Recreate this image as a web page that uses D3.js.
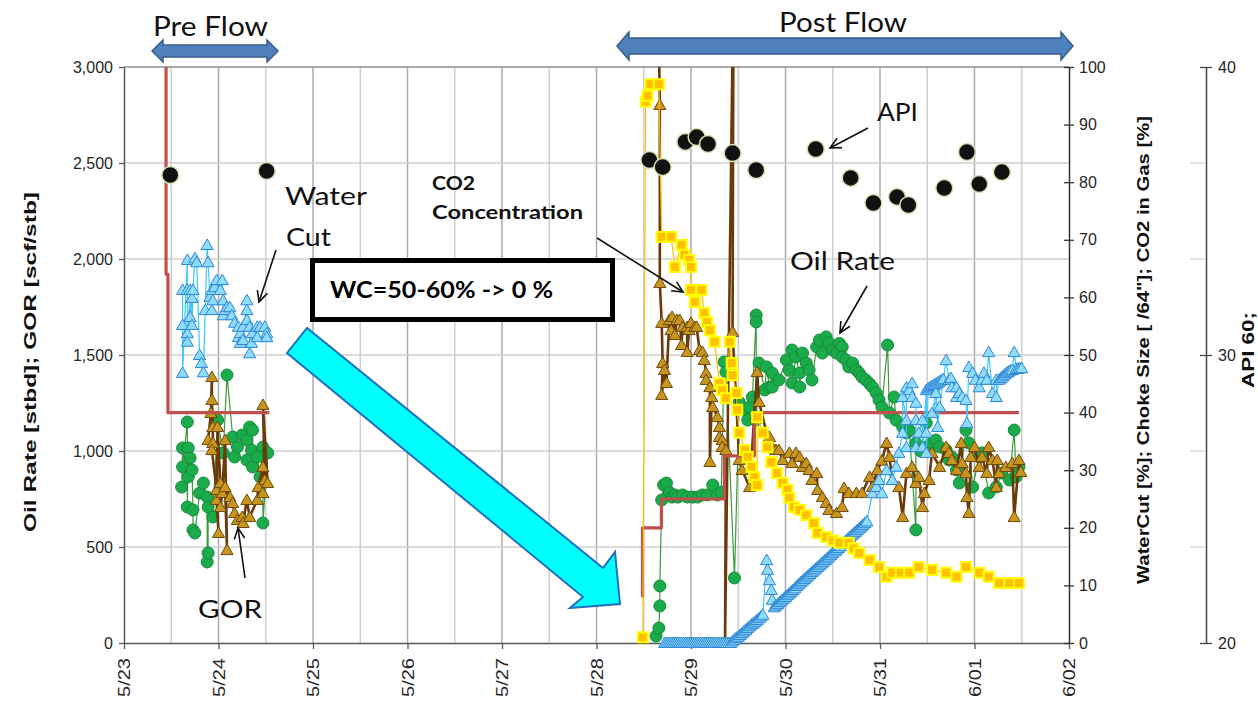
<!DOCTYPE html>
<html><head><meta charset="utf-8">
<script src="https://cdn.jsdelivr.net/npm/d3@7"></script>
<style>body{margin:0;background:#fff;} svg{display:block;}</style>
</head><body>
<svg id="c" width="1258" height="706"></svg>
<script>
// ---------- DATA (day offset from 5/23 00:00, value) ----------
const dateLabels = ["5/23","5/24","5/25","5/26","5/27","5/28","5/29","5/30","5/31","6/01","6/02"];
const leftTicks = [0,500,1000,1500,2000,2500,3000];
const rightTicks = [0,10,20,30,40,50,60,70,80,90,100];
const apiTicks = [20,30,40];

// Oil rate [stbd] (left axis)
const oilPre = [[0.61,812],[0.62,1016],[0.62,917],[0.67,1151],[0.67,708],[0.68,1016],[0.68,865],[0.70,964],[0.72,901],[0.73,693],[0.73,589],[0.75,573],[0.80,781],[0.84,833],[0.88,760],[0.88,422],[0.89,469],[0.89,708],[0.94,656],[0.99,1161],[1.05,990],[1.09,1396],[1.15,1073],[1.17,969],[1.20,1021],[1.25,1083],[1.30,1057],[1.30,953],[1.33,1125],[1.35,1005],[1.36,1109],[1.36,917],[1.41,969],[1.44,865],[1.47,1021],[1.47,625],[1.52,990]];
const oilPost = [[5.63,36],[5.66,78],[5.67,193],[5.67,297],[5.69,745],[5.71,823],[5.74,833],[5.77,786],[5.80,760],[5.83,771],[5.86,760],[5.91,771],[5.96,760],[6.02,760],[6.07,760],[6.12,771],[6.17,771],[6.23,823],[6.28,771],[6.32,786],[6.35,1464],[6.37,1411],[6.46,339],[6.51,1255],[6.57,1214],[6.60,1161],[6.62,1229],[6.65,1281],[6.69,1708],[6.69,1672],[6.69,1161],[6.72,1458],[6.78,1318],[6.80,1438],[6.83,1333],[6.86,1406],[6.86,1333],[6.93,1370],[7.01,1474],[7.04,1420],[7.07,1526],[7.07,1354],[7.11,1490],[7.15,1406],[7.15,1333],[7.18,1510],[7.22,1458],[7.25,1422],[7.28,1370],[7.33,1542],[7.36,1578],[7.39,1510],[7.43,1594],[7.46,1562],[7.50,1526],[7.54,1510],[7.57,1560],[7.60,1542],[7.60,1490],[7.64,1474],[7.67,1438],[7.71,1458],[7.75,1422],[7.78,1406],[7.81,1385],[7.85,1370],[7.89,1350],[7.92,1333],[7.96,1302],[7.99,1266],[8.02,1229],[8.08,1552],[8.10,1198],[8.15,1281],[8.17,1161],[8.24,1125],[8.28,1094],[8.31,1109],[8.38,589],[8.38,1042],[8.43,1000],[8.49,1146],[8.49,1021],[8.55,1042],[8.59,1057],[8.63,1021],[8.70,1005],[8.73,953],[8.76,969],[8.81,901],[8.84,833],[8.91,1109],[8.94,1042],[8.98,812],[9.05,969],[9.08,990],[9.15,781],[9.23,812],[9.29,885],[9.37,849],[9.42,1109],[9.44,865],[9.47,917]];

// GOR [scf/stb] (left axis)
const gorPre = [[0.89,1057],[0.92,1198],[0.93,1385],[0.93,1266],[0.94,1125],[0.94,1042],[0.93,1005],[0.98,797],[1.00,573],[0.98,745],[0.99,1125],[1.02,833],[1.02,708],[1.04,781],[1.07,1057],[1.09,484],[1.07,812],[1.12,760],[1.15,729],[1.17,677],[1.20,641],[1.25,656],[1.26,625],[1.30,745],[1.33,656],[1.41,745],[1.42,812],[1.47,917],[1.47,781],[1.49,849],[1.47,1240],[1.52,833]];
const gorPost = [[5.65,3500],[5.67,2802],[5.67,1875],[5.69,1667],[5.70,1458],[5.69,1292],[5.72,1422],[5.74,1354],[5.77,1682],[5.79,1630],[5.80,1698],[5.83,1604],[5.85,1682],[5.88,1682],[5.90,1552],[5.91,1646],[5.96,1646],[5.96,1516],[5.98,1630],[6.00,1667],[6.04,1646],[6.06,1646],[6.09,1526],[6.12,1516],[6.14,1474],[6.16,1406],[6.16,1370],[6.20,1333],[6.20,943],[6.22,1281],[6.23,1229],[6.28,1177],[6.30,1125],[6.30,1073],[6.33,1057],[6.33,1021],[6.37,1005],[6.36,0],[6.45,3500],[6.44,1620],[6.51,953],[6.54,901],[6.62,812],[6.70,1411],[6.72,1255],[6.80,1094],[6.83,1073],[6.90,1005],[6.93,1005],[6.97,953],[7.04,990],[7.07,937],[7.11,990],[7.15,969],[7.18,917],[7.22,937],[7.25,901],[7.28,849],[7.33,885],[7.34,797],[7.39,760],[7.43,729],[7.46,693],[7.54,677],[7.60,708],[7.62,807],[7.67,781],[7.75,781],[7.81,781],[7.89,865],[7.92,812],[7.97,900],[8.02,950],[8.07,1042],[8.10,969],[8.13,849],[8.20,812],[8.24,656],[8.28,885],[8.34,917],[8.38,833],[8.41,865],[8.45,708],[8.47,781],[8.52,849],[8.55,990],[8.63,917],[8.70,1021],[8.73,990],[8.76,953],[8.81,901],[8.86,1042],[8.87,937],[8.91,885],[8.92,760],[8.94,677],[8.96,969],[9.00,1021],[9.05,917],[9.08,969],[9.13,885],[9.15,1021],[9.19,953],[9.23,812],[9.24,953],[9.26,885],[9.33,917],[9.40,937],[9.42,656],[9.47,953],[9.49,891]];

// Water cut [%] (right axis)
const wcPre = [[0.62,61.3],[0.62,55.2],[0.62,46.9],[0.67,66.5],[0.67,61.3],[0.67,53.8],[0.67,52.3],[0.70,61.3],[0.70,56.6],[0.72,59.9],[0.72,55.2],[0.73,61.3],[0.75,66.8],[0.77,66.1],[0.80,50.0],[0.82,48.6],[0.84,47.0],[0.86,57.8],[0.88,69.1],[0.89,66.1],[0.91,60.1],[0.93,61.3],[0.93,57.8],[0.94,59.5],[0.96,61.8],[0.98,63.0],[1.02,61.3],[1.04,63.0],[1.05,59.5],[1.05,56.9],[1.07,57.8],[1.09,58.3],[1.12,58.3],[1.14,56.9],[1.17,55.6],[1.21,54.9],[1.21,53.1],[1.23,53.8],[1.23,52.1],[1.26,54.9],[1.26,52.6],[1.30,59.5],[1.30,57.8],[1.30,56.1],[1.33,54.9],[1.33,50.3],[1.35,52.1],[1.36,53.8],[1.41,54.9],[1.41,53.1],[1.44,54.9],[1.49,54.9],[1.51,53.8],[1.51,53.1]];
const wcPost = [[5.72,0],[5.74,0],[5.76,0],[5.78,0],[5.80,0],[5.82,0],[5.84,0],[5.86,0],[5.88,0],[5.90,0],[5.92,0],[5.94,0],[5.96,0],[5.98,0],[6.00,0],[6.02,0],[6.04,0],[6.06,0],[6.08,0],[6.10,0],[6.12,0],[6.14,0],[6.16,0],[6.18,0],[6.20,0],[6.22,0],[6.24,0],[6.26,0],[6.28,0],[6.30,0],[6.32,0],[6.34,0],[6.36,0],[6.38,0],[6.40,0],[6.42,0],
 [6.44,0.3],[6.46,0.6],[6.48,0.9],[6.50,1.1],[6.52,1.4],[6.54,1.7],[6.56,2.0],[6.58,2.3],[6.60,2.6],[6.62,2.9],[6.64,3.2],[6.66,3.4],[6.68,3.7],[6.70,4.0],[6.72,4.3],[6.74,4.6],[6.76,4.9],
 [6.80,14.4],[6.81,12.7],[6.83,10.9],[6.85,9.2],[6.86,7.5],
 [6.88,6.2],[6.90,6.5],[6.92,6.8],[6.94,7.1],[6.96,7.4],[6.98,7.7],[7.00,8.0],[7.02,8.3],[7.04,8.6],[7.06,8.9],[7.08,9.2],[7.10,9.5],[7.12,9.9],[7.14,10.2],[7.16,10.5],[7.18,10.8],[7.20,11.1],[7.22,11.4],[7.24,11.7],[7.26,12.0],[7.28,12.3],[7.30,12.6],[7.32,12.9],[7.34,13.2],[7.36,13.5],[7.38,13.8],[7.40,14.1],[7.42,14.4],[7.44,14.7],[7.46,15.0],[7.48,15.3],[7.50,15.6],[7.52,15.9],[7.54,16.2],[7.56,16.5],[7.58,16.8],[7.60,17.2],[7.62,17.5],[7.64,17.8],[7.66,18.1],[7.68,18.4],[7.70,18.7],[7.72,19.0],[7.74,19.3],[7.76,19.6],[7.78,19.9],[7.80,20.2],[7.82,20.5],[7.84,20.8],[7.86,21.1],
 [7.92,26.0],[7.96,27.1],[7.99,28.3],[8.02,26.0],[8.07,30.0],[8.13,28.3],[8.17,30.6],[8.20,33.0],[8.24,36.5],[8.24,42.7],[8.28,38.7],[8.28,34.0],[8.28,44.4],[8.31,43.9],[8.34,45.1],[8.34,42.7],[8.38,41.7],[8.38,38.7],[8.38,34.0],[8.41,36.5],[8.45,38.7],[8.45,34.0],[8.49,43.9],[8.49,36.5],[8.49,33.0],
 [8.51,44.2],[8.53,44.4],[8.55,44.6],[8.57,44.8],[8.59,45.0],[8.61,45.2],[8.63,45.4],[8.65,45.6],[8.67,45.8],
 [8.55,39.9],[8.59,43.4],[8.61,37.5],[8.63,41.0],[8.70,49.1],[8.73,45.7],[8.75,46.0],[8.76,44.4],[8.81,44.4],[8.81,42.7],[8.84,43.4],[8.87,42.7],[8.91,42.2],[8.92,38.2],[8.94,47.9],[8.98,46.9],[9.01,45.7],[9.05,44.4],[9.08,45.7],[9.10,46.9],[9.13,45.7],[9.15,50.5],[9.19,43.4],[9.23,45.7],[9.23,42.7],
 [9.26,45.7],[9.28,46.0],[9.30,46.3],[9.32,46.6],[9.34,46.9],[9.36,47.1],[9.38,47.3],[9.40,47.4],[9.42,50.5],[9.44,47.6],[9.46,47.6],[9.48,47.7],[9.50,47.7]];

// CO2 in gas [%] (right axis)
const co2 = [[5.49,1],[5.52,94],[5.54,95],[5.57,97],[5.66,97],[5.69,70.5],[5.79,70.5],[5.83,65.3],[5.90,69.1],[5.93,67.4],[5.98,66.5],[6.00,65.3],[6.00,61.3],[6.04,59.2],[6.11,61.3],[6.14,57.3],[6.17,55.7],[6.20,54.3],[6.25,52.3],[6.30,45.1],[6.33,43.9],[6.37,42.5],[6.41,52.3],[6.43,48.6],[6.44,46.5],[6.48,43.4],[6.49,40.5],[6.51,36.5],[6.57,33.5],[6.60,32.3],[6.64,30.6],[6.67,28.8],[6.70,27.4],[6.70,39.2],[6.76,36.5],[6.81,34.0],[6.85,31.4],[6.91,29.5],[6.97,27.8],[7.02,26.6],[7.04,25.2],[7.09,23.6],[7.15,23.1],[7.22,22.2],[7.30,20.8],[7.34,19.1],[7.43,18.4],[7.50,17.8],[7.57,17.4],[7.67,17.4],[7.72,16.4],[7.78,15.6],[7.89,14.4],[7.99,13.2],[8.07,11.5],[8.13,12.2],[8.22,12.2],[8.31,12.2],[8.41,13.2],[8.55,12.7],[8.70,12.2],[8.81,11.5],[8.91,13.2],[9.05,12.2],[9.15,11.5],[9.26,10.4],[9.37,10.4],[9.47,10.4]];

// Choke size [/64"] (right axis, step line)
const chokePre = [[0.44,110],[0.445,64],[0.465,40],[1.54,40]];
const chokePost = [[5.485,8],[5.487,20],[5.687,25],[6.353,32.5],[6.67,40],[9.47,40]];

// API 60 (API axis)
const api = [[0.49,36.25],[1.51,36.39],[5.56,36.77],[5.70,36.53],[5.94,37.40],[6.06,37.57],[6.18,37.33],[6.44,37.01],[6.69,36.42],[7.32,37.15],[7.69,36.15],[7.93,35.28],[8.18,35.49],[8.30,35.21],[8.68,35.80],[8.92,37.05],[9.05,35.94],[9.29,36.35]];

// ---------- CHART ----------
const L=124, R=1069, T=67, B=643, AX2=1206;
const base = Date.UTC(2013,4,23);
const toDate = d => new Date(base + d*864e5);
const x = d3.scaleUtc().domain([toDate(0), toDate(10)]).range([L,R]);
const yL = d3.scaleLinear().domain([0,3000]).range([B,T]);
const yR = d3.scaleLinear().domain([0,100]).range([B,T]);
const yA = d3.scaleLinear().domain([20,40]).range([B,T]);

const svg = d3.select("#c");
svg.append("rect").attr("width",1258).attr("height",706).attr("fill","#fff");
svg.append("defs").append("clipPath").attr("id","pc")
  .append("rect").attr("x",L).attr("y",T).attr("width",R-L).attr("height",B-T);

// grid
const grid = svg.append("g");
const gx = x.ticks(d3.utcHour.every(12)).filter(t => t > x.domain()[0] && t < x.domain()[1]);
grid.selectAll("line.v").data(gx).join("line")
  .attr("x1",d=>x(d)).attr("x2",d=>x(d)).attr("y1",T).attr("y2",B)
  .attr("stroke",d=>d.getUTCHours()===0?"#ABABAB":"#CFCFCF").attr("stroke-width",1.5);
grid.selectAll("line.h").data(leftTicks.filter(v=>v>0)).join("line")
  .attr("x1",L).attr("x2",R).attr("y1",d=>yL(d)).attr("y2",d=>yL(d))
  .attr("stroke",d=>d===3000?"#8C8C8C":"#CFCFCF").attr("stroke-width",1.5);

// cyan arrow + WC box
svg.append("path")
  .attr("d","M287,353 L307,328 L603,568 L615,552 L620,604 L570,608 L583,597 Z")
  .attr("fill","#00FFFF").attr("stroke","#1F70C0").attr("stroke-width",2);
svg.append("rect").attr("x",312.5).attr("y",260.5).attr("width",300).attr("height",59)
  .attr("fill","#fff").attr("stroke","#000").attr("stroke-width",5);
svg.append("text").attr("x",330).attr("y",298).text("WC=50-60% -> 0 %")
  .attr("font-family","Lato, 'Open Sans', sans-serif").attr("font-weight","bold").attr("font-size",22)
  .attr("textLength",223).attr("lengthAdjust","spacingAndGlyphs");

// axes
const fontAx = "'Liberation Sans', Arial, sans-serif";
const gL = svg.append("g").attr("transform",`translate(${L},0)`)
  .call(d3.axisLeft(yL).tickValues(leftTicks).tickFormat(d3.format(",")).tickSize(5).tickSizeOuter(0).tickPadding(6));
const gB = svg.append("g").attr("transform",`translate(0,${B})`)
  .call(d3.axisBottom(x).tickValues(dateLabels.map((s,i)=>toDate(i))).tickFormat((d,i)=>dateLabels[i]).tickSize(6).tickSizeOuter(0));
const gR = svg.append("g").attr("transform",`translate(${R},0)`)
  .call(d3.axisRight(yR).tickValues(rightTicks).tickSize(5).tickSizeOuter(0).tickPadding(5));
gR.selectAll(".tick line").attr("x1",-5);
const gA = svg.append("g").attr("transform",`translate(${AX2},0)`)
  .call(d3.axisRight(yA).tickValues(apiTicks).tickSize(6).tickSizeOuter(0).tickPadding(6));
gA.selectAll(".tick line").attr("x1",-6);
[gL,gB,gR,gA].forEach(g=>{
  g.selectAll("text").attr("font-family",fontAx).attr("font-size",16).attr("fill","#262626");
  g.selectAll("path.domain").attr("stroke","#595959").attr("stroke-width",1.5);
  g.selectAll(".tick line").attr("stroke","#595959").attr("stroke-width",1.3);
});
gB.selectAll("text").attr("transform","rotate(-90)").attr("x",-15).attr("y",0).attr("dy","0.35em")
  .style("text-anchor","end").attr("font-size",17).attr("textLength",39).attr("lengthAdjust","spacingAndGlyphs");
gR.selectAll("path.domain,.tick line").attr("stroke","#333");
gA.selectAll("path.domain,.tick line").attr("stroke","#444");
svg.append("g").selectAll("line").data([500,1000,2000,2500]).join("line")
  .attr("x1",AX2-16).attr("x2",AX2).attr("y1",d=>yL(d)).attr("y2",d=>yL(d))
  .attr("stroke","#D0D0D0").attr("stroke-width",1.2);

// axis titles
function vTitle(t,cx,cy,len){
  svg.append("text").attr("transform",`translate(${cx},${cy}) rotate(-90)`).attr("text-anchor","middle")
    .attr("font-family",fontAx).attr("font-weight","bold").attr("font-size",17).attr("fill","#111")
    .attr("textLength",len).attr("lengthAdjust","spacingAndGlyphs").text(t);
}
vTitle("Oil Rate [stbd]; GOR [scf/stb]",36,362,340);
vTitle('WaterCut [%]; Choke Size [ /64"]; CO2 in Gas [%]',1149,350,468);
vTitle("API 60;",1254,350,76);

// series
const lineGen = (ys) => d3.line().x(d=>x(toDate(d[0]))).y(d=>ys(d[1]));
const plotG = svg.append("g");
const tri = d3.symbol(d3.symbolTriangle).size(64)();

function series(data, ys, o){
  const gl = plotG.append("g").attr("clip-path","url(#pc)");
  if (o.line) gl.append("path").attr("d",lineGen(ys).curve(o.curve||d3.curveLinear)(data))
    .attr("fill","none").attr("stroke",o.line).attr("stroke-width",o.lw).attr("stroke-linejoin","round");
  if (!o.marker) return;
  const gm = plotG.append("g");
  const pts = data.filter(d=>ys(d[1])>=T-1);
  const m = gm.selectAll("g").data(pts).join("g")
    .attr("transform",d=>`translate(${x(toDate(d[0]))},${ys(d[1])})`);
  if (o.marker==="circle") m.append("circle").attr("r",o.r);
  if (o.marker==="tri") m.append("path").attr("d",tri).attr("transform","translate(0,1)");
  if (o.marker==="sq") m.append("rect").attr("x",-5).attr("y",-5).attr("width",10).attr("height",10);
  m.selectAll("*").attr("fill",o.fill).attr("stroke",o.stroke).attr("stroke-width",o.sw);
}
const oilStyle = {line:"#3C9A3C", lw:1.2, marker:"circle", r:6, fill:"#1AAB4B", stroke:"#168A3C", sw:1};
const gorStyle = {line:"#6B3A0A", lw:2.6, marker:"tri", fill:"#C8961E", stroke:"#6E4A0A", sw:1};
const wcStyle  = {line:"#3CC8FA", lw:1.2, marker:"tri", fill:"#8FDCFA", stroke:"#2E86D6", sw:1};
const co2Style = {line:"#FFC000", lw:1.2, marker:"sq", fill:"#FFC000", stroke:"#FFFF00", sw:2};
series(oilPre, yL, oilStyle); series(oilPost, yL, oilStyle);
series(gorPre, yL, gorStyle); series(gorPost, yL, gorStyle);
series(chokePre, yR, {line:"#C0504D", lw:3.2, curve:d3.curveStepAfter});
series(chokePost, yR, {line:"#C0504D", lw:3.2, curve:d3.curveStepAfter});
series(wcPre, yR, wcStyle); series(wcPost, yR, wcStyle);
series(co2, yR, co2Style);
series(api, yA, {marker:"circle", r:8.5, fill:"#111", stroke:"#D5E3B5", sw:1.5});

// top arrows
function dblArrow(x1,x2,cy,sh,hh,hl){
  return `M${x1},${cy} L${x1+hl},${cy-hh} L${x1+hl},${cy-sh} L${x2-hl},${cy-sh} L${x2-hl},${cy-hh} L${x2},${cy} L${x2-hl},${cy+hh} L${x2-hl},${cy+sh} L${x1+hl},${cy+sh} L${x1+hl},${cy+hh} Z`;
}
svg.append("path").attr("d",dblArrow(152,278,51,6,11,11)).attr("fill","#4F81BD").attr("stroke","#385D8A").attr("stroke-width",1.5);
svg.append("path").attr("d",dblArrow(617,1073,46,8,14,12)).attr("fill","#4F81BD").attr("stroke","#385D8A").attr("stroke-width",1.5);

const fontAn = "Lato, 'Open Sans', sans-serif";
function label(t,x0,y0,w,size,bold){
  svg.append("text").attr("x",x0).attr("y",y0).text(t).attr("font-family",fontAn)
    .attr("font-size",size).attr("font-weight",bold?"bold":"normal").attr("fill","#111")
    .attr("textLength",w).attr("lengthAdjust","spacingAndGlyphs");
}
label("Pre Flow",153,36,115,26);
label("Post Flow",779,32,128,26);
label("Water",285,205,82,25);
label("Cut",286,246,45,25);
label("GOR",198,618,64,25);
label("Oil Rate",790,270,105,25);
label("API",877,121,41,25);
label("CO2",432,190,43,18,true);
label("Concentration",432,219,151,18,true);

function annArrow(x1,y1,x2,y2){
  const g = svg.append("g").attr("stroke","#111").attr("stroke-width",1.6).attr("fill","none");
  g.append("line").attr("x1",x1).attr("y1",y1).attr("x2",x2).attr("y2",y2);
  const a = Math.atan2(y2-y1,x2-x1), len=12, sp=0.45;
  g.append("path").attr("d",`M${x2-len*Math.cos(a-sp)},${y2-len*Math.sin(a-sp)} L${x2},${y2} L${x2-len*Math.cos(a+sp)},${y2-len*Math.sin(a+sp)}`);
}
annArrow(276,250,259,302);
annArrow(245,578,238,528);
annArrow(597,238,683,292);
annArrow(867,286,840,333);
annArrow(868,128,830,148);
</script>
</body></html>
